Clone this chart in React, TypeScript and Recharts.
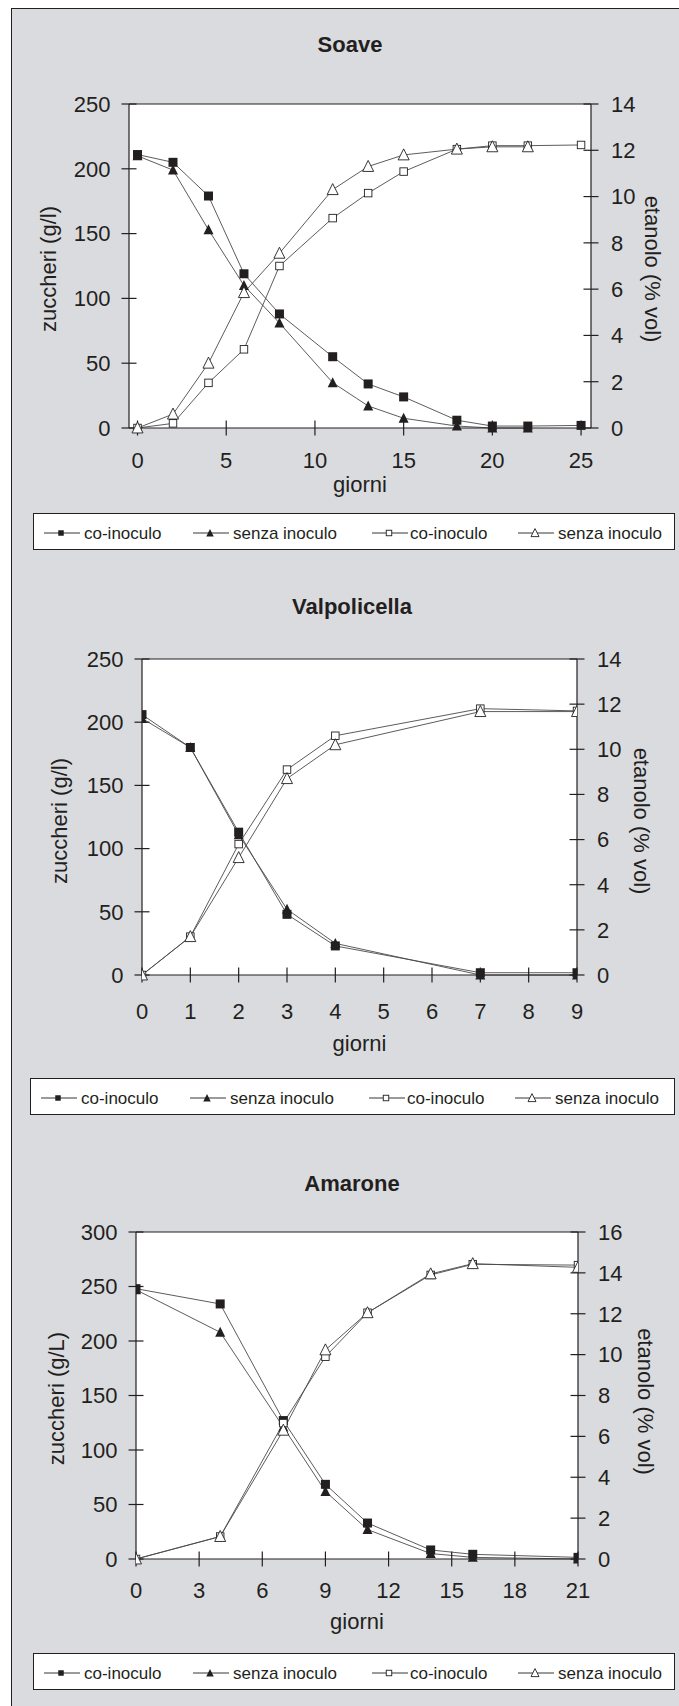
import { LineChart, Line, XAxis, YAxis, Legend, CartesianGrid, ReferenceLine } from "recharts";

const FONT = '"Liberation Sans", Arial, Helvetica, sans-serif';
const INK = "#231f20";
const WIRE = "#4a4a4a";
const PANEL_BG = "#dadbdf";

// --- Soave ---
const soaveDays = [0, 2, 4, 6, 8, 11, 13, 15, 18, 20, 22, 25];
const soaveSugarCo = [211, 205, 179, 119, 88, 55, 34, 24, 6, 1.5, 1.5, 2];
const soaveSugarSenza = [210, 199, 153, 110, 81, 35, 17, 7.5, 1.5, 0, 0, null];
const soaveEthCo = [0, 0.2, 1.95, 3.4, 7.0, 9.07, 10.15, 11.08, 12.05, 12.2, 12.2, 12.23];
const soaveEthSenza = [0, 0.6, 2.8, 5.85, 7.55, 10.3, 11.3, 11.8, 12.05, 12.15, 12.15, null];
const soaveXTicks = [0, 5, 10, 15, 20, 25];
const soaveSugarTicks = [0, 50, 100, 150, 200, 250];
const soaveEthTicks = [0, 2, 4, 6, 8, 10, 12, 14];

// --- Valpolicella ---
const valpoDays = [0, 1, 2, 3, 4, 7, 9];
const valpoSugarCo = [206, 180, 113, 48, 23, 1.8, 1.8];
const valpoSugarSenza = [203, 180, 111, 52, 25, 0, 0];
const valpoEthCo = [0, 1.7, 5.8, 9.1, 10.6, 11.8, 11.7];
const valpoEthSenza = [0, 1.7, 5.2, 8.7, 10.2, 11.67, 11.67];
const valpoXTicks = [0, 1, 2, 3, 4, 5, 6, 7, 8, 9];
const valpoSugarTicks = [0, 50, 100, 150, 200, 250];
const valpoEthTicks = [0, 2, 4, 6, 8, 10, 12, 14];

// --- Amarone ---
const amaroneDays = [0, 4, 7, 9, 11, 14, 16, 21];
const amaroneSugarCo = [248, 234, 127, 68.5, 33, 8.3, 4.3, 1.5];
const amaroneSugarSenza = [247, 208, 121, 62, 27, 5, 1.5, 0];
const amaroneEthCo = [0, 1.1, 6.65, 9.9, 12.05, 13.9, 14.42, 14.38];
const amaroneEthSenza = [0, 1.1, 6.3, 10.23, 12.05, 13.95, 14.45, 14.27];
const amaroneXTicks = [0, 3, 6, 9, 12, 15, 18, 21];
const amaroneSugarTicks = [0, 50, 100, 150, 200, 250, 300];
const amaroneEthTicks = [0, 2, 4, 6, 8, 10, 12, 14, 16];

const SERIES_LABELS = ["co-inoculo", "senza inoculo", "co-inoculo", "senza inoculo"];

const rowsFrom = (days: number[], sCo: any[], sSz: any[], eCo: any[], eSz: any[]) =>
  days.map((day, i) => ({
    day,
    sugarCo: sCo[i] ?? null,
    sugarSenza: sSz[i] ?? null,
    ethCo: eCo[i] ?? null,
    ethSenza: eSz[i] ?? null,
  }));

const tri = (cx: number, cy: number, s: number) =>
  `M${cx},${cy - s * 0.55}L${cx + s / 2},${cy + s * 0.45}L${cx - s / 2},${cy + s * 0.45}Z`;

function marker(kind: string, cx: number, cy: number, s: number, key?: string) {
  if (kind === "fsq") return <rect key={key} x={cx - s / 2} y={cy - s / 2} width={s} height={s} fill={INK} />;
  if (kind === "osq")
    return <rect key={key} x={cx - s / 2} y={cy - s / 2} width={s} height={s} fill="#fff" stroke={INK} strokeWidth={0.9} />;
  if (kind === "ftri") return <path key={key} d={tri(cx, cy, s)} fill={INK} />;
  return <path key={key} d={tri(cx, cy, s)} fill="#fff" stroke={INK} strokeWidth={0.9} />;
}

const dotOf = (kind: string, size: number) => (p: any) => {
  const k = `${kind}-${p.index}`;
  if (p.cx == null || p.cy == null || Number.isNaN(p.cy)) return <g key={k} />;
  return marker(kind, p.cx, p.cy, size, k);
};

const LEGEND_ITEMS = [
  { kind: "fsq", x: 11, size: 5.5, gap: 40 },
  { kind: "ftri", x: 160, size: 7.5, gap: 40 },
  { kind: "osq", x: 339, size: 5.5, gap: 38 },
  { kind: "otri", x: 485, size: 8, gap: 40 },
];

function LegendBox({ width }: { width: number }) {
  return (
    <svg width={width} height={37} style={{ display: "block" }}>
      <rect x={0.5} y={0.5} width={width - 1} height={36} fill="#fff" stroke={INK} />
      {LEGEND_ITEMS.map((it, i) => (
        <g key={i}>
          <line x1={it.x} x2={it.x + 36} y1={20} y2={20} stroke={INK} strokeWidth={0.9} />
          {marker(it.kind, it.x + 17, 20, it.size)}
          <text x={it.x + it.gap} y={26} fontSize={17} fill={INK} fontFamily={FONT}>
            {SERIES_LABELS[i]}
          </text>
        </g>
      ))}
    </svg>
  );
}

const yLabel = (text: string, cx: number, angle: number, shift: number) => (props: any) => {
  const vb = props.viewBox || {};
  const cy = vb.y + vb.height / 2 + shift;
  return (
    <text
      x={cx}
      y={cy}
      transform={`rotate(${angle} ${cx} ${cy})`}
      textAnchor="middle"
      dominantBaseline="central"
      fontSize={22}
      fill={INK}
      fontFamily={FONT}
    >
      {text}
    </text>
  );
};

const xLabel = (fromBottom: number) => (props: any) => {
  const vb = props.viewBox || {};
  return (
    <text x={vb.x + vb.width / 2} y={vb.y + vb.height - fromBottom} textAnchor="middle" fontSize={22} fill={INK} fontFamily={FONT}>
      giorni
    </text>
  );
};

const tickFont = { fill: INK, fontSize: 22, fontFamily: FONT };

function Panel(props: any) {
  const { top, height, rows, lay, xDomain, xTicks, sDomain, sTicks, eDomain, eTicks, sugarTitle } = props;
  return (
    <div style={{ position: "absolute", left: 0, top, width: 679, height }}>
      <LineChart
        width={679}
        height={height}
        data={rows}
        margin={{ top: lay.mt, right: 0, bottom: lay.mb, left: 0 }}
      >
        <CartesianGrid yAxisId="left" horizontal={false} vertical={false} fill="#fff" />
        <XAxis
          dataKey="day"
          type="number"
          domain={xDomain}
          ticks={xTicks}
          allowDataOverflow
          height={lay.xh}
          tickSize={15}
          tickMargin={lay.xm}
          tick={tickFont}
          axisLine={{ stroke: INK, strokeWidth: 1.2 }}
          tickLine={{ stroke: INK, strokeWidth: 1.2, transform: "translate(0,-7.5)" }}
          label={{ content: xLabel(lay.gb) }}
        />
        <YAxis
          yAxisId="left"
          orientation="left"
          domain={sDomain}
          ticks={sTicks}
          width={lay.lw}
          tickSize={15}
          tickMargin={3.5}
          tick={tickFont}
          axisLine={{ stroke: INK, strokeWidth: 1.2 }}
          tickLine={{ stroke: INK, strokeWidth: 1.2, transform: "translate(7.5,0)" }}
          label={{ content: yLabel(sugarTitle, lay.lx, -90, lay.ls) }}
        />
        <YAxis
          yAxisId="right"
          orientation="right"
          domain={eDomain}
          ticks={eTicks}
          width={lay.rw}
          tickSize={15}
          tickMargin={5}
          tick={tickFont}
          axisLine={{ stroke: INK, strokeWidth: 1.2 }}
          tickLine={{ stroke: INK, strokeWidth: 1.2, transform: "translate(-7.5,0)" }}
          label={{ content: yLabel("etanolo (% vol)", lay.rx, 90, lay.rs) }}
        />
        <ReferenceLine yAxisId="left" y={sDomain[1]} stroke={INK} strokeWidth={1.2} />
        <Line yAxisId="left" dataKey="sugarCo" stroke={WIRE} strokeWidth={0.9} dot={dotOf("fsq", 9)} isAnimationActive={false} />
        <Line yAxisId="left" dataKey="sugarSenza" stroke={WIRE} strokeWidth={0.9} dot={dotOf("ftri", 10)} isAnimationActive={false} />
        <Line yAxisId="right" dataKey="ethCo" stroke={WIRE} strokeWidth={0.9} dot={dotOf("osq", 7.5)} isAnimationActive={false} />
        <Line yAxisId="right" dataKey="ethSenza" stroke={WIRE} strokeWidth={0.9} dot={dotOf("otri", 11)} isAnimationActive={false} />
        <Legend
          verticalAlign="bottom"
          width={lay.legW}
          height={37}
          wrapperStyle={{ left: lay.legX, width: lay.legW }}
          content={() => <LegendBox width={lay.legW} />}
        />
      </LineChart>
    </div>
  );
}

const soaveRows = rowsFrom(soaveDays, soaveSugarCo, soaveSugarSenza, soaveEthCo, soaveEthSenza);
const valpoRows = rowsFrom(valpoDays, valpoSugarCo, valpoSugarSenza, valpoEthCo, valpoEthSenza);
const amaroneRows = rowsFrom(amaroneDays, amaroneSugarCo, amaroneSugarSenza, amaroneEthCo, amaroneEthSenza);

export default function App() {
  return (
    <div style={{ position: "absolute", left: 0, top: 0, width: 679, height: 1706, overflow: "hidden", background: "#fff", fontFamily: FONT }}>
      <div
        style={{
          position: "absolute",
          left: 11,
          top: 8,
          width: 700,
          height: 1720,
          background: PANEL_BG,
          borderLeft: `1px solid ${INK}`,
          borderTop: `1px solid ${INK}`,
        }}
      />
      <Panel
        top={0}
        height={560}
        rows={soaveRows}
        lay={{ mt: 104, mb: 10, xh: 85, xm: 9.5, gb: 21, lw: 129, rw: 88, lx: 48.5, ls: 3, rx: 652, rs: 3, legX: 33, legW: 642 }}
        xDomain={[-0.48, 25.56]}
        xTicks={soaveXTicks}
        sDomain={[0, 250]}
        sTicks={soaveSugarTicks}
        eDomain={[0, 14]}
        eTicks={soaveEthTicks}
        sugarTitle="zuccheri (g/l)"
      />
      <Panel
        top={560}
        height={570}
        rows={valpoRows}
        lay={{ mt: 99, mb: 15, xh: 103, xm: 13, gb: 27, lw: 142, rw: 102, lx: 59, ls: 4, rx: 641, rs: 4, legX: 30, legW: 645 }}
        xDomain={[0, 9]}
        xTicks={valpoXTicks}
        sDomain={[0, 250]}
        sTicks={valpoSugarTicks}
        eDomain={[0, 14]}
        eTicks={valpoEthTicks}
        sugarTitle="zuccheri (g/l)"
      />
      <Panel
        top={1130}
        height={576}
        rows={amaroneRows}
        lay={{ mt: 102, mb: 16, xh: 94, xm: 8, gb: 24, lw: 136, rw: 101, lx: 56, ls: 3, rx: 645, rs: 6, legX: 33, legW: 642 }}
        xDomain={[0, 21]}
        xTicks={amaroneXTicks}
        sDomain={[0, 300]}
        sTicks={amaroneSugarTicks}
        eDomain={[0, 16]}
        eTicks={amaroneEthTicks}
        sugarTitle="zuccheri (g/L)"
      />
      <svg width={679} height={1706} style={{ position: "absolute", left: 0, top: 0, pointerEvents: "none" }}>
        <text x={350} y={52.3} textAnchor="middle" fontSize={22} fontWeight="bold" fill={INK} fontFamily={FONT}>Soave</text>
        <text x={352} y={613.6} textAnchor="middle" fontSize={22} fontWeight="bold" fill={INK} fontFamily={FONT}>Valpolicella</text>
        <text x={352} y={1190.6} textAnchor="middle" fontSize={22} fontWeight="bold" fill={INK} fontFamily={FONT}>Amarone</text>
      </svg>
    </div>
  );
}
